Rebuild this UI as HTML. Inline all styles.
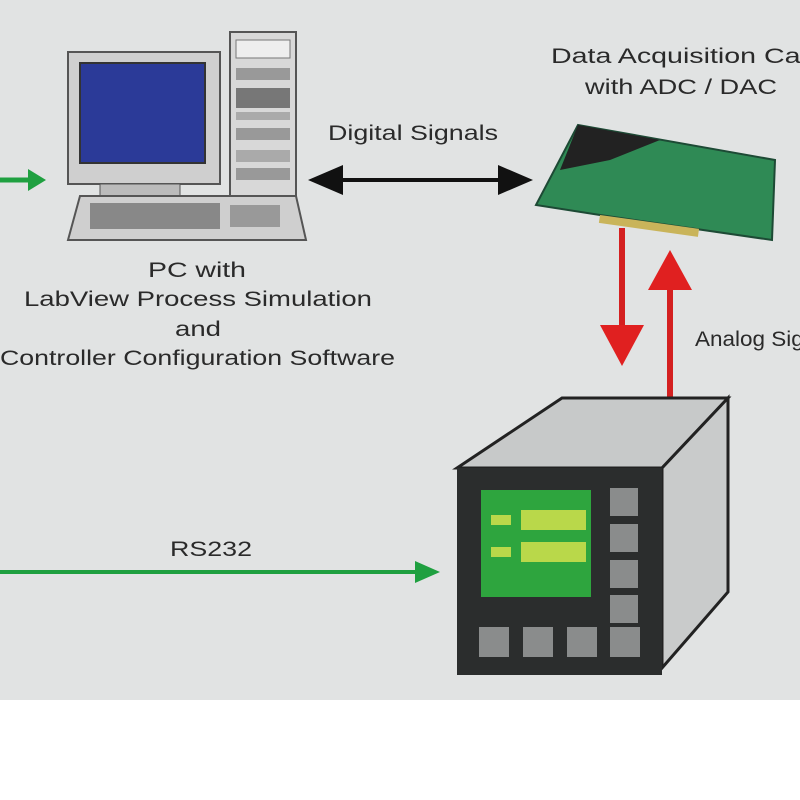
<!DOCTYPE html>
<html><head><style>
body{margin:0;width:800px;height:800px;background:#fff;overflow:hidden}
svg{display:block}
text{font-family:"Liberation Sans",sans-serif;fill:#2a2a2a}
</style></head><body>
<svg width="800" height="800" viewBox="0 0 800 800">
<rect x="0" y="0" width="800" height="700" fill="#e1e3e3"/>
<line x1="0" y1="180" x2="30" y2="180" stroke="#1fa040" stroke-width="5"/>
<polygon points="28,169 46,180 28,191" fill="#1fa040"/>
<rect x="230" y="32" width="66" height="165" fill="#d8d8d8" stroke="#555" stroke-width="2"/>
<rect x="236" y="40" width="54" height="18" fill="#eee" stroke="#777"/>
<rect x="236" y="68" width="54" height="12" fill="#999"/>
<rect x="236" y="88" width="54" height="20" fill="#777"/>
<rect x="236" y="112" width="54" height="8" fill="#aaa"/>
<rect x="236" y="128" width="54" height="12" fill="#999"/>
<rect x="236" y="150" width="54" height="12" fill="#aaa"/>
<rect x="236" y="168" width="54" height="12" fill="#999"/>
<rect x="68" y="52" width="152" height="132" fill="#cfcfcf" stroke="#555" stroke-width="2"/>
<rect x="80" y="63" width="125" height="100" fill="#2b3a98" stroke="#333" stroke-width="2"/>
<rect x="100" y="184" width="80" height="12" fill="#bbb" stroke="#555"/>
<polygon points="80,196 296,196 306,240 68,240" fill="#cfcfcf" stroke="#555" stroke-width="2"/>
<rect x="90" y="203" width="130" height="26" fill="#888"/>
<rect x="230" y="205" width="50" height="22" fill="#999"/>
<line x1="330" y1="180" x2="512" y2="180" stroke="#111" stroke-width="4"/>
<polygon points="308,180 343,165 343,195" fill="#111"/>
<polygon points="533,180 498,165 498,195" fill="#111"/>
<g font-size="21">
<text x="328" y="140" textLength="170" lengthAdjust="spacingAndGlyphs">Digital Signals</text>
<text x="148" y="277" textLength="98" lengthAdjust="spacingAndGlyphs">PC with</text>
<text x="24" y="306" textLength="348" lengthAdjust="spacingAndGlyphs">LabView  Process Simulation</text>
<text x="175" y="336" textLength="46" lengthAdjust="spacingAndGlyphs">and</text>
<text x="0" y="365" textLength="395" lengthAdjust="spacingAndGlyphs">Controller Configuration Software</text>
<text x="551" y="63" textLength="275" lengthAdjust="spacingAndGlyphs">Data Acquisition Card</text>
<text x="585" y="94" textLength="192" lengthAdjust="spacingAndGlyphs">with ADC / DAC</text>
<text x="695" y="346" textLength="150" lengthAdjust="spacingAndGlyphs">Analog Signals</text>
<text x="170" y="556" textLength="82" lengthAdjust="spacingAndGlyphs">RS232</text>
</g>
<polygon points="536,205 578,125 775,160 772,240 600,215" fill="#2f8a55" stroke="#1d4a35" stroke-width="2"/>
<polygon points="578,125 660,140 610,160 560,170" fill="#222"/>
<rect x="600" y="215" width="100" height="8" fill="#c9b45a" transform="rotate(8 600 215)"/>
<line x1="622" y1="228" x2="622" y2="330" stroke="#d42020" stroke-width="6"/>
<polygon points="600,325 644,325 622,366" fill="#e02020"/>
<line x1="670" y1="285" x2="670" y2="398" stroke="#d42020" stroke-width="6"/>
<polygon points="648,290 692,290 670,250" fill="#e02020"/>
<polygon points="457,468 562,398 728,398 662,468" fill="#c7c9c9" stroke="#222" stroke-width="3"/>
<polygon points="662,468 728,398 728,592 662,668" fill="#c9cbcb" stroke="#222" stroke-width="3"/>
<rect x="457" y="468" width="205" height="207" fill="#2b2d2d"/>
<rect x="481" y="490" width="110" height="107" fill="#2ea53e"/>
<rect x="521" y="510" width="65" height="20" fill="#b9d84a"/>
<rect x="521" y="542" width="65" height="20" fill="#b9d84a"/>
<rect x="491" y="515" width="20" height="10" fill="#b9d84a"/>
<rect x="491" y="547" width="20" height="10" fill="#b9d84a"/>
<g fill="#8a8c8c">
<rect x="610" y="488" width="28" height="28"/>
<rect x="610" y="524" width="28" height="28"/>
<rect x="610" y="560" width="28" height="28"/>
<rect x="610" y="595" width="28" height="28"/>
<rect x="479" y="627" width="30" height="30"/>
<rect x="523" y="627" width="30" height="30"/>
<rect x="567" y="627" width="30" height="30"/>
<rect x="610" y="627" width="30" height="30"/>
</g>
<line x1="0" y1="572" x2="418" y2="572" stroke="#1fa040" stroke-width="4"/>
<polygon points="415,561 440,572 415,583" fill="#1fa040"/>
</svg>
</body></html>
